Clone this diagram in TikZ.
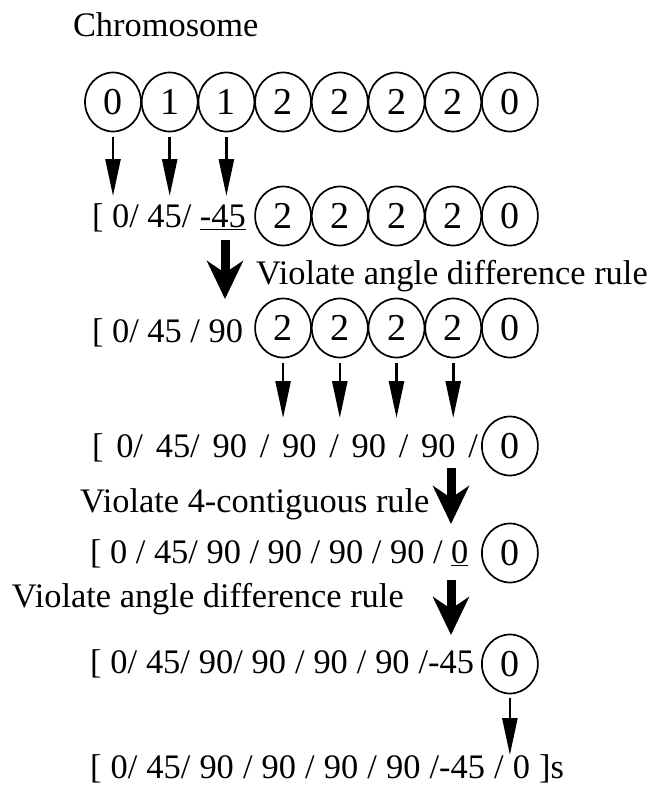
\documentclass[tikz,border=0pt]{standalone}
\usepackage{fontspec}
\setmainfont{Liberation Serif}
\usetikzlibrary{arrows.meta,shapes.geometric}
\begin{document}
\begin{tikzpicture}[x=1pt,y=-1pt,
  every node/.style={inner sep=0pt, outer sep=0pt, font=\fontsize{34.4}{40}\selectfont},
  txt/.style={anchor=base west},
  gene/.style={draw, line width=1.7pt, ellipse, minimum width=56pt, minimum height=59pt,
    font=\fontsize{38}{44}\selectfont},
  thinarrow/.style={line width=2.6pt, -{Triangle[length=37pt,width=15pt]}},
  bigarrow/.style={line width=9pt, -{Stealth[length=38pt,width=36pt,inset=12pt]}}
]
\useasboundingbox (0,0) rectangle (653,796);

% title
\node[txt] (title) at (73,36) {Chromosome};

% row 1: chromosome
\foreach \d [count=\k from 0] in {0,1,1,2,2,2,2,0}
  \node[gene] (a\k) at ({113+56.7*\k},102) {\d};

% row 2
\node[txt] (r2) at (92,227) {[ 0/ 45/ \underline{-45}};
\foreach \d [count=\k from 3] in {2,2,2,2,0}
  \node[gene] (b\k) at ({113+56.7*\k},216) {\d};

% row 3
\node[txt] (r3) at (92,342) {[ 0/ 45 / 90};
\foreach \d [count=\k from 3] in {2,2,2,2,0}
  \node[gene] (c\k) at ({113+56.7*\k},328) {\d};

% row 4
\node[txt] (r4) at (92,457) {\makebox[386pt][s]{[ 0/ 45/ 90 / 90 / 90 / 90 /}};
\node[gene] (d7) at ({113+56.7*7},446) {0};

% row 5
\node[txt] (r5) at (90,563) {[ 0 / 45/ 90 / 90 / 90 / 90 / \underline{0}};
\node[gene] (e7) at ({113+56.7*7},553) {0};

% row 6
\node[txt] (r6) at (90,673) {\makebox[384pt][s]{[ 0/ 45/ 90/ 90 / 90 / 90 /-45}};
\node[gene] (f7) at ({113+56.7*7},664) {0};

% final row
\node[txt] (r7) at (90,778) {\makebox[474pt][s]{[ 0/ 45/ 90 / 90 / 90 / 90 /-45 / 0 ]s}};

% rule labels
\node[txt] (v1) at (256,284) {Violate angle difference rule};
\node[txt] (v2) at (80,512) {Violate 4-contiguous rule};
\node[txt] (v3) at (12,607) {Violate angle difference rule};

% arrow end points
\foreach \k in {0,1,2}{
  \coordinate (sa\k) at ({113+56.7*\k},137);
  \coordinate (ea\k) at ({113+56.7*\k},196);
}
\foreach \k in {3,4,5,6}{
  \coordinate (sc\k) at ({113+56.7*\k},363);
  \coordinate (ec\k) at ({113+56.7*\k},418);
}
\coordinate (g1s) at (225,240);  \coordinate (g1e) at (225,299);
\coordinate (g2s) at (451,468);  \coordinate (g2e) at (451,524);
\coordinate (g3s) at (451,580);  \coordinate (g3e) at (451,635);
\coordinate (fs) at ({113+56.7*7},698); \coordinate (fe) at ({113+56.7*7},755);

% connectors
\foreach \k in {0,1,2} \draw[thinarrow] (sa\k) -- (ea\k);
\foreach \k in {3,4,5,6} \draw[thinarrow] (sc\k) -- (ec\k);
\draw[bigarrow] (g1s) -- (g1e);
\draw[bigarrow] (g2s) -- (g2e);
\draw[bigarrow] (g3s) -- (g3e);
\draw[thinarrow] (fs) -- (fe);
\end{tikzpicture}
\end{document}
